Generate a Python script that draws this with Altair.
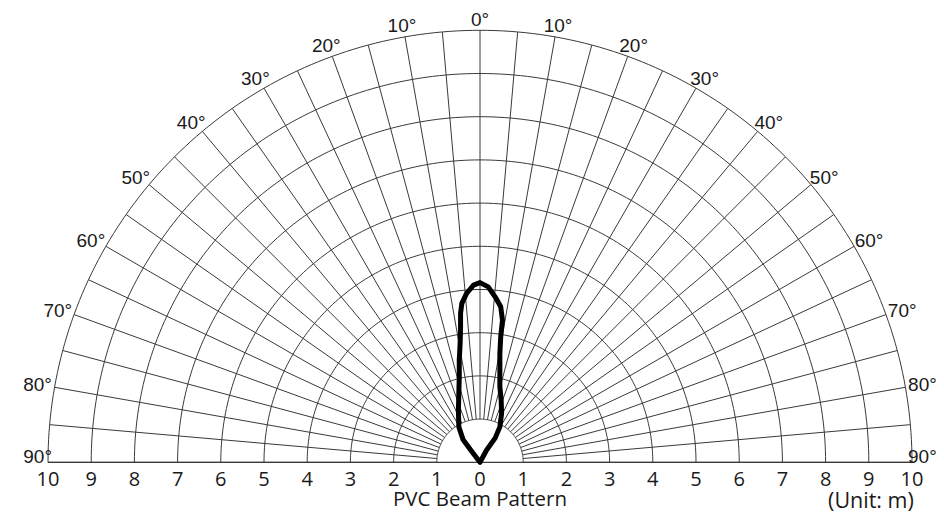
import altair as alt
import numpy as np
import pandas as pd

# ---------------- data ----------------
ring_radii = [1, 2, 3, 4, 5, 6, 7, 8, 9, 10]          # metres
spoke_angles = list(range(-90, 91, 5))                  # degrees from boresight
spoke_inner = 1
spoke_outer = 10
degree_marks = [-90, -80, -70, -60, -50, -40, -30, -20, -10, 0,
                10, 20, 30, 40, 50, 60, 70, 80, 90]
distance_ticks = [-10, -9, -8, -7, -6, -5, -4, -3, -2, -1, 0,
                  1, 2, 3, 4, 5, 6, 7, 8, 9, 10]

# beam outline (metres, lateral x / forward y)
beam_x = [0.00, 0.15, 0.35, 0.46, 0.50, 0.49, 0.46, 0.46, 0.46, 0.48, 0.52,
          0.48, 0.35, 0.19, 0.00, -0.15, -0.31, -0.42, -0.45, -0.45, -0.46,
          -0.48, -0.48, -0.49, -0.50, -0.49, -0.39, -0.19, 0.00]
beam_y = [0.00, 0.28, 0.56, 0.82, 1.13, 1.44, 1.75, 2.14, 2.52, 2.91, 3.29,
          3.60, 3.83, 4.06, 4.16, 4.10, 3.91, 3.68, 3.45, 3.14, 2.75,
          2.37, 1.98, 1.60, 1.21, 0.82, 0.52, 0.25, 0.00]

title_text = "PVC Beam Pattern"
unit_text = "(Unit: m)"

# ---------------- layout ----------------
PX = 43.2            # pixels per metre
CX, CY = 480, 462.3  # page position of the origin
W, H = 928, 505
x_dom = [(8 - CX) / PX, (8 + W - CX) / PX]
y_dom = [(CY - 8 - H) / PX, (CY - 8) / PX]
xs = alt.Scale(domain=x_dom, nice=False, zero=False)
ys = alt.Scale(domain=y_dom, nice=False, zero=False)

GRID = "#3a3a3a"
TEXT = "#1a1a1a"

# rings
rows = []
for r in ring_radii:
    for a in np.arange(-90, 90.01, 1.0):
        t = np.radians(a)
        rows.append({"r": r, "a": a, "x": r * np.sin(t), "y": r * np.cos(t)})
rings = pd.DataFrame(rows)

# spokes
sp = pd.DataFrame({"a": spoke_angles})
t = np.radians(sp["a"])
sp["x"] = spoke_inner * np.sin(t)
sp["y"] = spoke_inner * np.cos(t)
sp["x2"] = spoke_outer * np.sin(t)
sp["y2"] = spoke_outer * np.cos(t)

base = pd.DataFrame({"x": [-10], "x2": [10], "y": [0]})

beam = pd.DataFrame({"i": range(len(beam_x)), "x": beam_x, "y": beam_y})

# degree labels: just outside the outer ring, pushed out more sideways;
# the two 90° labels sit a little above the baseline, tucked in to fit
deg = pd.DataFrame({"a": degree_marks})
t = np.radians(deg["a"])
is90 = np.abs(deg["a"]) == 90
hx = np.where(is90, 0.24, 0.40)
deg["x"] = (10 + hx) * np.sin(t)
deg["y"] = (10 + 0.25) * np.cos(t) + np.where(is90, 0.13, 0.0)
deg["label"] = [f"{abs(a)}°" for a in degree_marks]

ticks = pd.DataFrame({"x": distance_ticks,
                      "y": [-0.40] * len(distance_ticks),
                      "label": [str(abs(v)) for v in distance_ticks]})

notes = pd.DataFrame({"x": [0.0], "y": [-0.88], "label": [title_text]})
unit = pd.DataFrame({"x": [9.05], "y": [-0.93], "label": [unit_text]})

X = lambda f="x": alt.X(f"{f}:Q", scale=xs, axis=None)
Y = lambda f="y": alt.Y(f"{f}:Q", scale=ys, axis=None)

ring_layer = alt.Chart(rings).mark_line(color=GRID, strokeWidth=1).encode(
    x=X(), y=Y(), detail="r:N", order="a:Q")

spoke_layer = alt.Chart(sp).mark_rule(color=GRID, strokeWidth=1).encode(
    x=X(), y=Y(), x2="x2:Q", y2="y2:Q")

base_layer = alt.Chart(base).mark_rule(color=GRID, strokeWidth=1.2).encode(
    x=X(), x2="x2:Q", y=Y())

beam_layer = alt.Chart(beam).mark_line(
    color="black", strokeWidth=5, strokeJoin="round", strokeCap="round"
).encode(x=X(), y=Y(), order="i:Q")

deg_layer = alt.Chart(deg).mark_text(
    font="Liberation Sans", fontSize=19, color=TEXT, baseline="middle", align="center"
).encode(x=X(), y=Y(), text="label:N")

tick_layer = alt.Chart(ticks).mark_text(
    font="Open Sans", fontSize=20, color=TEXT, baseline="middle", align="center"
).encode(x=X(), y=Y(), text="label:N")

title_layer = alt.Chart(notes).mark_text(
    font="Open Sans", fontSize=20.5, color=TEXT, baseline="middle", align="center"
).encode(x=X(), y=Y(), text="label:N")

unit_layer = alt.Chart(unit).mark_text(
    font="Open Sans", fontSize=21.5, color=TEXT, baseline="middle", align="center"
).encode(x=X(), y=Y(), text="label:N")

chart = alt.layer(
    ring_layer, spoke_layer, base_layer, beam_layer,
    deg_layer, tick_layer, title_layer, unit_layer
).properties(
    width=W, height=H, padding=0, autosize="none", background="white"
).configure_view(stroke=None)

chart.save("out.html", embed_options={"renderer": "svg", "actions": False})
